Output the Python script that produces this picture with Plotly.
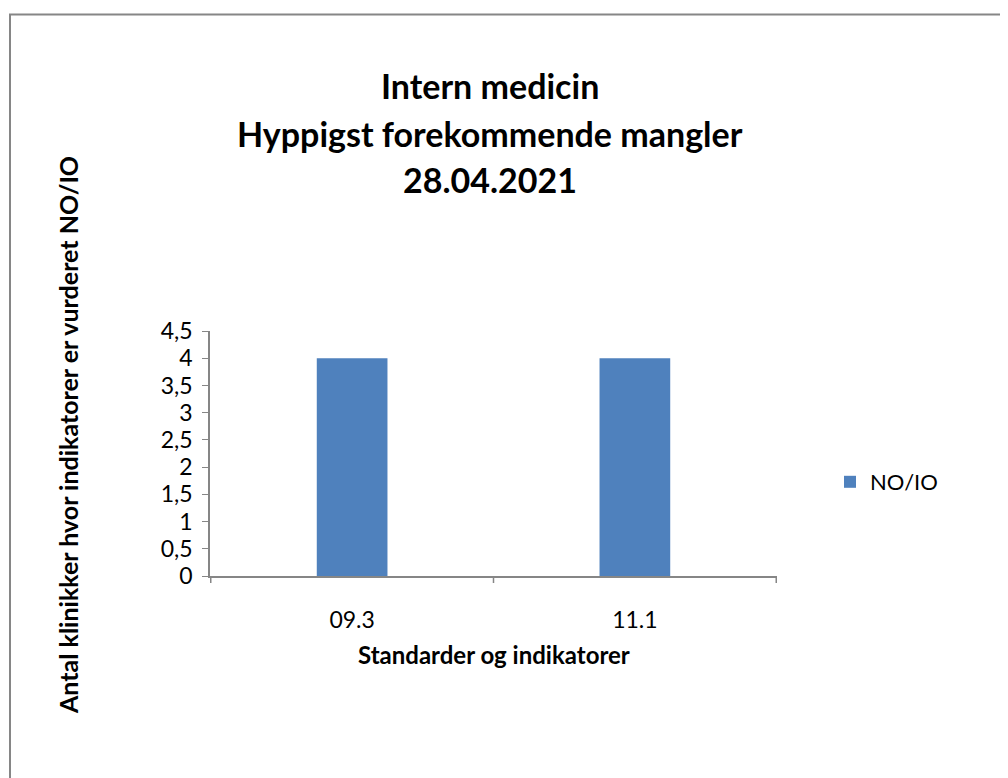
import plotly.graph_objects as go

# data
categories = ["09.3", "11.1"]
values = [4, 4]
series_name = "NO/IO"
y_ticks = [0, 0.5, 1, 1.5, 2, 2.5, 3, 3.5, 4, 4.5]
title_lines = ["Intern medicin", "Hyppigst forekommende mangler", "28.04.2021"]

OFF = 8  # page body margin in the browser
W, H = 1008 - OFF, 778 - OFF
L, R, T, B = 210, 777, 331, 576  # plot area in screen pixels
pw, ph = R - L, B - T


def px(x):
    return (x - L) / pw


def py(y):
    return (B - y) / ph


FONT = "Lato, Carlito, Calibri, sans-serif"
AXIS_GRAY = "#868686"

fig = go.Figure(go.Bar(
    x=categories,
    y=values,
    name=series_name,
    marker=dict(color="#4f81bd", line=dict(width=0)),
    width=0.25,
))

fig.update_layout(
    width=W, height=H,
    margin=dict(l=L - OFF, r=W + OFF - R, t=T - OFF, b=H + OFF - B),
    paper_bgcolor="white", plot_bgcolor="white",
    separators=", ",
    font=dict(family=FONT, size=22, color="black"),
    showlegend=True,
    legend=dict(x=px(830), y=py(482), xanchor="left", yanchor="middle",
                font=dict(size=22), itemwidth=30, bgcolor="rgba(0,0,0,0)"),
    bargap=0.75,
)

fig.update_xaxes(
    showline=True, linecolor=AXIS_GRAY, linewidth=1.5,
    ticks="", showgrid=False, tickfont=dict(size=23), ticklabelstandoff=23,
)
fig.update_yaxes(
    range=[0, 4.5], tickvals=y_ticks, showline=True, linecolor=AXIS_GRAY, linewidth=1.5,
    ticks="outside", ticklen=6, tickcolor=AXIS_GRAY, showgrid=False, zeroline=False,
    tickfont=dict(size=23), ticklabelstandoff=5,
)

# category boundary ticks on x axis
for xb in [-0.5, 0.5, 1.5]:
    fig.add_shape(type="line", xref="x", yref="paper", x0=xb, x1=xb, y0=0, y1=py(B + 7),
                  line=dict(color=AXIS_GRAY, width=1.5))

# title lines
for txt, yc in zip(title_lines, [85, 133, 180]):
    fig.add_annotation(text=f"<b>{txt}</b>", xref="paper", yref="paper",
                       x=px(490), y=py(yc), showarrow=False,
                       font=dict(size=34), xanchor="center", yanchor="middle")

# x axis title
fig.add_annotation(text="<b>Standarder og indikatorer</b>", xref="paper", yref="paper",
                   x=px(494), y=py(654), showarrow=False, font=dict(size=24),
                   xanchor="center", yanchor="middle")

# y axis title
fig.add_annotation(text="<b>Antal klinikker hvor indikatorer er vurderet NO/IO</b>",
                   xref="paper", yref="paper", x=px(68), y=py(435), textangle=-90,
                   showarrow=False, font=dict(size=25), xanchor="center", yanchor="middle")

# outer chart border (left and top visible)
fig.add_shape(type="rect", xref="paper", yref="paper",
              x0=px(10), x1=px(1030), y0=py(800), y1=py(14.5),
              line=dict(color=AXIS_GRAY, width=2))

fig.write_html("out.html")
